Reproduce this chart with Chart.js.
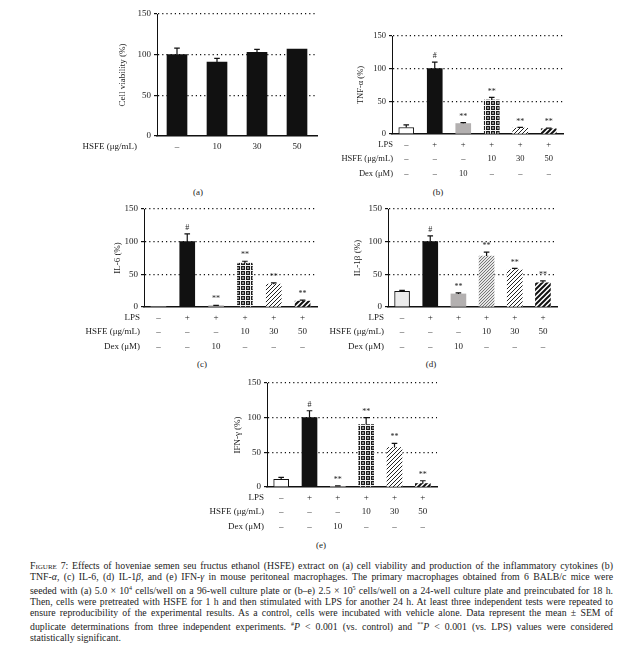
<!DOCTYPE html>
<html>
<head>
<meta charset="utf-8">
<script src="https://cdn.jsdelivr.net/npm/chart.js@4.4.0/dist/chart.umd.min.js"></script>
<style>
    body { margin: 0; background: #fff; width: 643px; height: 658px; position: relative; overflow: hidden; font-family: 'Liberation Serif', serif; color: #222; }
    canvas { position: absolute; left: 0; top: 0; }
    .lbl { position: absolute; font-size: 9px; transform: translateX(-50%); }
    #cap { position: absolute; left: 30px; top: 561px; width: 583px; font-size: 9.8px; line-height: 10.9px; }
    #cap div { text-align: justify; text-align-last: justify; }
    #cap .last { text-align-last: left; }
    .sc { font-variant: small-caps; }
</style>
</head>
<body>
<div class="lbl" style="left:198px;top:187px">(a)</div>
<div class="lbl" style="left:438px;top:187px">(b)</div>
<div class="lbl" style="left:202px;top:359px">(c)</div>
<div class="lbl" style="left:431px;top:359px">(d)</div>
<div class="lbl" style="left:321px;top:540px">(e)</div>

<div id="cap">
<div><span class="sc">Figure</span> 7: Effects of hoveniae semen seu fructus ethanol (HSFE) extract on (a) cell viability and production of the inflammatory cytokines (b)</div>
<div>TNF-<i>α</i>, (c) IL-6, (d) IL-1<i>β</i>, and (e) IFN-<i>γ</i> in mouse peritoneal macrophages. The primary macrophages obtained from 6 BALB/c mice were</div>
<div>seeded with (a) 5.0 × 10<sup style="font-size:6px">4</sup> cells/well on a 96-well culture plate or (b–e) 2.5 × 10<sup style="font-size:6px">5</sup> cells/well on a 24-well culture plate and preincubated for 18 h.</div>
<div>Then, cells were pretreated with HSFE for 1 h and then stimulated with LPS for another 24 h. At least three independent tests were repeated to</div>
<div>ensure reproducibility of the experimental results. As a control, cells were incubated with vehicle alone. Data represent the mean ± SEM of</div>
<div>duplicate determinations from three independent experiments. <sup style="font-size:6px">#</sup><i>P</i> &lt; 0.001 (vs. control) and <sup style="font-size:6px">**</sup><i>P</i> &lt; 0.001 (vs. LPS) values were considered</div>
<div class="last">statistically significant.</div>
</div>

<script>
// treatment table under panels (b)-(e)
const rowNames = ['LPS', 'HSFE (μg/mL)', 'Dex (μM)'];
const lpsRow = ['–', '+', '+', '+', '+', '+'];
const hsfeRow = ['–', '–', '–', '10', '30', '50'];
const dexRow = ['–', '–', '10', '–', '–', '–'];
const doseLabels = ['–', '10', '30', '50'];
const yTicks = [0, 50, 100, 150];

// values in % (mean and SEM)
const viability = [100, 91, 103, 107];
const viabilityErr = [8, 4.5, 3.5, 0];
const tnfAlpha = [10, 100, 16, 52, 9, 8];
const tnfAlphaErr = [4, 10, 1.5, 4, 1, 1];
const il6 = [0, 100, 2, 67, 35, 9];
const il6Err = [0, 12, 0.5, 3, 2, 1.5];
const il1b = [24, 100, 20, 78, 57, 37];
const il1bErr = [1.5, 9, 1.5, 6, 2, 3];
const ifnGamma = [11, 100, 1, 90, 57, 5];
const ifnGammaErr = [3, 10, 0.5, 10, 6, 4];
const sigMarks = ['', '#', '**', '**', '**', '**'];

const FONT = 'Liberation Serif';
const INK = '#222';

function makePattern(size, bg, draw) {
    const c = document.createElement('canvas');
    c.width = c.height = size;
    const g = c.getContext('2d');
    g.fillStyle = bg;
    g.fillRect(0, 0, size, size);
    draw(g, size);
    return g.createPattern(c, 'repeat');
}

function diag(g, s, color, w) {
    g.strokeStyle = color;
    g.lineWidth = w;
    g.beginPath();
    g.moveTo(0, s); g.lineTo(s, 0);
    g.moveTo(-1, 1); g.lineTo(1, -1);
    g.moveTo(s - 1, s + 1); g.lineTo(s + 1, s - 1);
    g.stroke();
}

const checker = makePattern(5, '#1c1c1c', (g) => {
    g.fillStyle = '#f4f4f4';
    g.fillRect(0, 0, 5, 1);
    g.fillRect(0, 0, 1, 5);
    g.fillStyle = '#8a8a8a';
    g.fillRect(2, 2, 2, 2);
});
const fineHatch = makePattern(3, '#e6e6e6', (g, s) => diag(g, s, '#6a6a6a', 0.9));
const hatch = makePattern(4, '#ffffff', (g, s) => diag(g, s, '#222', 1));
const thickHatch = makePattern(5, '#ffffff', (g, s) => diag(g, s, '#111', 2));

function makePanel(p) {
    const canvas = document.createElement('canvas');
    canvas.width = 643;
    canvas.height = 658;
    document.body.appendChild(canvas);
    const yW = p.titleOff + p.fs * 0.6;

    const errorBars = {
        id: 'errorBars',
        afterDatasetsDraw(chart) {
            const { ctx } = chart;
            const y = chart.scales.y;
            const meta = chart.getDatasetMeta(0);
            ctx.save();
            ctx.strokeStyle = '#111';
            ctx.lineWidth = 1.2;
            ctx.fillStyle = INK;
            ctx.font = '8px "' + FONT + '"';
            ctx.textAlign = 'center';
            ctx.textBaseline = 'bottom';
            meta.data.forEach((bar, i) => {
                const top = y.getPixelForValue(p.values[i] + p.err[i]);
                if (p.err[i] > 0) {
                    ctx.beginPath();
                    ctx.moveTo(bar.x, bar.y);
                    ctx.lineTo(bar.x, top);
                    ctx.moveTo(bar.x - 2.8, top);
                    ctx.lineTo(bar.x + 2.8, top);
                    ctx.stroke();
                }
                const m = p.marks ? p.marks[i] : '';
                if (m) ctx.fillText(m, bar.x, top - 2);
            });
            ctx.restore();
        }
    };

    const rows = {
        id: 'rows',
        afterDraw(chart) {
            const { ctx, chartArea } = chart;
            const x = chart.scales.x;
            ctx.save();
            ctx.fillStyle = INK;
            ctx.font = p.fs + 'px "' + FONT + '"';
            ctx.textBaseline = 'middle';
            p.rows.forEach((row, r) => {
                const yy = chartArea.bottom + [10.5, 25, 39.5][r];
                ctx.textAlign = 'right';
                ctx.fillText(row.name, chartArea.left - p.headGap, yy);
                ctx.textAlign = 'center';
                row.cells.forEach((c, j) => ctx.fillText(c, x.getPixelForValue(j), yy));
            });
            ctx.restore();
        }
    };

    new Chart(canvas, {
        type: 'bar',
        data: {
            labels: p.values.map((v, i) => String(i)),
            datasets: [{
                data: p.values,
                backgroundColor: p.fills,
                borderColor: '#111',
                borderWidth: p.borders,
                borderSkipped: 'bottom',
                barThickness: p.barW
            }]
        },
        options: {
            responsive: false,
            animation: false,
            devicePixelRatio: 1,
            events: [],
            layout: {
                padding: { left: p.left - yW, right: 643 - p.right, top: p.top, bottom: 658 - p.bottom }
            },
            plugins: { legend: { display: false }, tooltip: { enabled: false } },
            scales: {
                x: {
                    grid: { display: false },
                    ticks: { display: false },
                    border: { color: '#111', width: 1.5 },
                    afterFit: (s) => { s.height = 0; }
                },
                y: {
                    min: 0,
                    max: 150,
                    afterBuildTicks: (s) => { s.ticks = yTicks.map(v => ({ value: v })); },
                    afterFit: (s) => { s.width = yW; },
                    ticks: { font: { family: FONT, size: p.fs }, color: INK, padding: 3 },
                    grid: {
                        color: (c) => (c.tick && c.tick.value === 0) ? 'rgba(0,0,0,0)' : '#111',
                        lineWidth: 1.2,
                        tickLength: 3,
                        tickColor: '#111'
                    },
                    border: { color: '#111', width: 1, dash: [1.2, 3] },
                    title: { display: true, text: p.title, font: { family: FONT, size: p.fs }, color: INK, padding: 0 }
                }
            }
        },
        plugins: [errorBars, rows]
    });
}

const table = [
    { name: rowNames[0], cells: lpsRow },
    { name: rowNames[1], cells: hsfeRow },
    { name: rowNames[2], cells: dexRow }
];

// (a) cell viability
makePanel({
    values: viability, err: viabilityErr, marks: null,
    fills: ['#111', '#111', '#111', '#111'], borders: 0, barW: 20,
    left: 157, right: 317, top: 14, bottom: 136, titleOff: 34, fs: 9,
    title: 'Cell viability (%)', headGap: 20,
    rows: [{ name: rowNames[1], cells: doseLabels }]
});

// (b) TNF-alpha
makePanel({
    values: tnfAlpha, err: tnfAlphaErr, marks: sigMarks,
    fills: ['#ffffff', '#111', '#b3b0b0', checker, hatch, thickHatch], borders: [1, 0, 0, 0, 0, 0], barW: 15,
    left: 392, right: 563, top: 36, bottom: 134, titleOff: 31, fs: 8.5,
    title: 'TNF-α (%)', headGap: -1, rows: table
});

// (c) IL-6
makePanel({
    values: il6, err: il6Err, marks: ['', '#', '**', '**', '**', '**'],
    fills: ['#ffffff', '#111', '#b3b0b0', checker, hatch, thickHatch], borders: 0, barW: 15,
    left: 144, right: 317, top: 209, bottom: 307, titleOff: 26, fs: 9,
    title: 'IL-6 (%)', headGap: 4, rows: table
});

// (d) IL-1beta
makePanel({
    values: il1b, err: il1bErr, marks: sigMarks,
    fills: ['#ececec', '#111', '#b3b0b0', fineHatch, hatch, thickHatch], borders: [1, 0, 0, 0, 0, 0], barW: 15,
    left: 388, right: 557, top: 209, bottom: 307, titleOff: 30, fs: 9,
    title: 'IL-1β (%)', headGap: 4, rows: table
});

// (e) IFN-gamma
makePanel({
    values: ifnGamma, err: ifnGammaErr, marks: sigMarks,
    fills: ['#ffffff', '#111', '#b3b0b0', checker, hatch, thickHatch], borders: [1, 0, 0, 0, 0, 0], barW: 15,
    left: 267, right: 437, top: 383, bottom: 487, titleOff: 29, fs: 9,
    title: 'IFN-γ (%)', headGap: 3, rows: table
});
</script>
</body>
</html>
